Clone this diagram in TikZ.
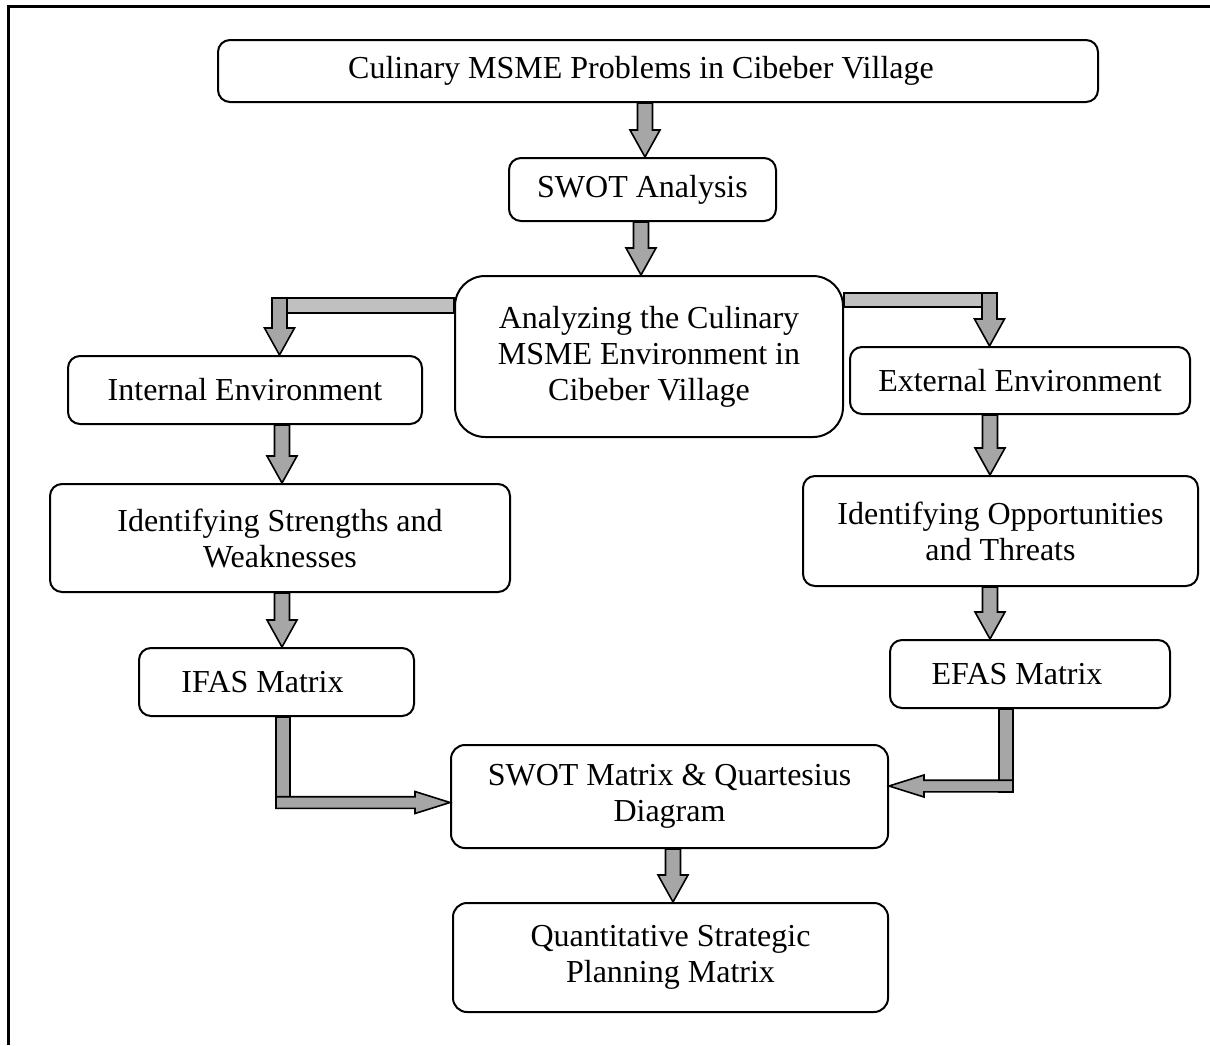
\documentclass[tikz,border=0pt]{standalone}
\usepackage{fontspec}
\setmainfont{Liberation Serif}
\usetikzlibrary{calc}
\definecolor{arrowgray}{RGB}{166,166,166}
\definecolor{bargray}{RGB}{192,192,192}
\newcommand{\boxfont}{\fontsize{16}{18}\selectfont}
% block arrow pointing down: x, from, to
\newcommand{\blockdown}[3]{%
  \filldraw[blockarrow] let \p1=#2, \p2=#3, \p3=(#1,0) in
    (\x3-3.75pt,\y1) -- (\x3+3.75pt,\y1) -- (\x3+3.75pt,\y2+13.5pt)
    -- (\x3+7.5pt,\y2+13.5pt) -- (\x3,\y2) -- (\x3-7.5pt,\y2+13.5pt)
    -- (\x3-3.75pt,\y2+13.5pt) -- cycle;}
% block arrow sideways: y, from, to
\newcommand{\blockside}[3]{%
  \filldraw[blockarrow] let \p1=#2, \p2=#3, \p3=(0,#1),
    \n1={sign(\x2-\x1)*17.5} in
    (\x1,\y3-2.9pt) -- ({\x2-\n1*1pt},\y3-2.9pt) -- ({\x2-\n1*1pt},\y3-5.5pt)
    -- (\x2,\y3) -- ({\x2-\n1*1pt},\y3+5.5pt) -- ({\x2-\n1*1pt},\y3+2.9pt)
    -- (\x1,\y3+2.9pt) -- cycle;}

\begin{document}
\begin{tikzpicture}[x=0.5pt,y=-0.5pt,
  box/.style={draw, fill=white, line width=1pt, rounded corners=6pt,
    align=center, inner sep=0pt, font=\boxfont},
  blockarrow/.style={fill=arrowgray, draw=black, line width=0.8pt},
  lightbar/.style={fill=bargray, draw=black, line width=0.8pt}]
  \useasboundingbox (0,0) rectangle (1210,1045);
  \draw[line width=1.5pt] (8,1045) -- (8,6.5) -- (1210,6.5);

  \node[box, minimum width=440pt, minimum height=31pt] (prob) at (658,71)
    {Culinary MSME Problems in Cibeber Village\kern17pt};
  \node[box, minimum width=133.5pt, minimum height=31.5pt] (swot) at (642.5,189.5)
    {SWOT Analysis};
  \node[box, rounded corners=15pt, minimum width=194pt, minimum height=80.5pt] (env)
    at (649,356.5) {Analyzing the Culinary\\MSME Environment in\\Cibeber Village};
  \node[box, minimum width=177pt, minimum height=34pt] (intl) at (245,390)
    {Internal Environment};
  \node[box, minimum width=170pt, minimum height=33.5pt] (extl) at (1020,380.5)
    {External Environment};
  \node[box, minimum width=230pt, minimum height=54pt] (sw) at (280,538)
    {Identifying Strengths and\\Weaknesses};
  \node[box, minimum width=197.5pt, minimum height=55pt] (ot) at (1000.5,531)
    {Identifying Opportunities\\and Threats};
  \node[box, minimum width=137.5pt, minimum height=34pt] (ifas) at (276.5,682)
    {IFAS Matrix\kern14pt};
  \node[box, minimum width=140pt, minimum height=34pt] (efas) at (1030,674)
    {EFAS Matrix\kern13pt};
  \node[box, rounded corners=7pt, minimum width=218.5pt, minimum height=51.5pt] (smat)
    at (669.5,796.5) {SWOT Matrix \& Quartesius\\Diagram};
  \node[box, rounded corners=7pt, minimum width=217.5pt, minimum height=54.5pt] (qspm)
    at (670.5,957.5) {Quantitative Strategic\\Planning Matrix};

  \coordinate (lturn) at (279.5,298);
  \coordinate (lbar) at (287,313);
  \coordinate (rturn) at (989.5,293);
  \coordinate (rbar) at (983,307);
  \coordinate (lknee) at (276,802.5);
  \coordinate (rknee) at (1013,786);

  \blockdown{645}{(prob.south)}{(swot.north)}
  \blockdown{641}{(swot.south)}{(env.north)}
  % split to both sides
  \filldraw[lightbar] (287,298) rectangle (env.west |- lbar);
  \blockdown{279.5}{(lturn)}{(intl.north)}
  \filldraw[lightbar] (env.east |- rbar) rectangle (983,293);
  \blockdown{989.5}{(rturn)}{(extl.north)}
  \blockdown{282}{(intl.south)}{(sw.north)}
  \blockdown{282}{(sw.south)}{(ifas.north)}
  \blockdown{990}{(extl.south)}{(ot.north)}
  \blockdown{990}{(ot.south)}{(efas.north)}
  % join into the matrix
  \filldraw[blockarrow] (ifas.south -| lknee) rectangle +(14,81);
  \blockside{802.5}{(lknee)}{(smat.west)}
  \filldraw[blockarrow] (efas.south -| rknee) rectangle +(-14,83);
  \blockside{786}{(rknee)}{(smat.east)}
  \blockdown{673}{(smat.south)}{(qspm.north)}
\end{tikzpicture}
\end{document}
